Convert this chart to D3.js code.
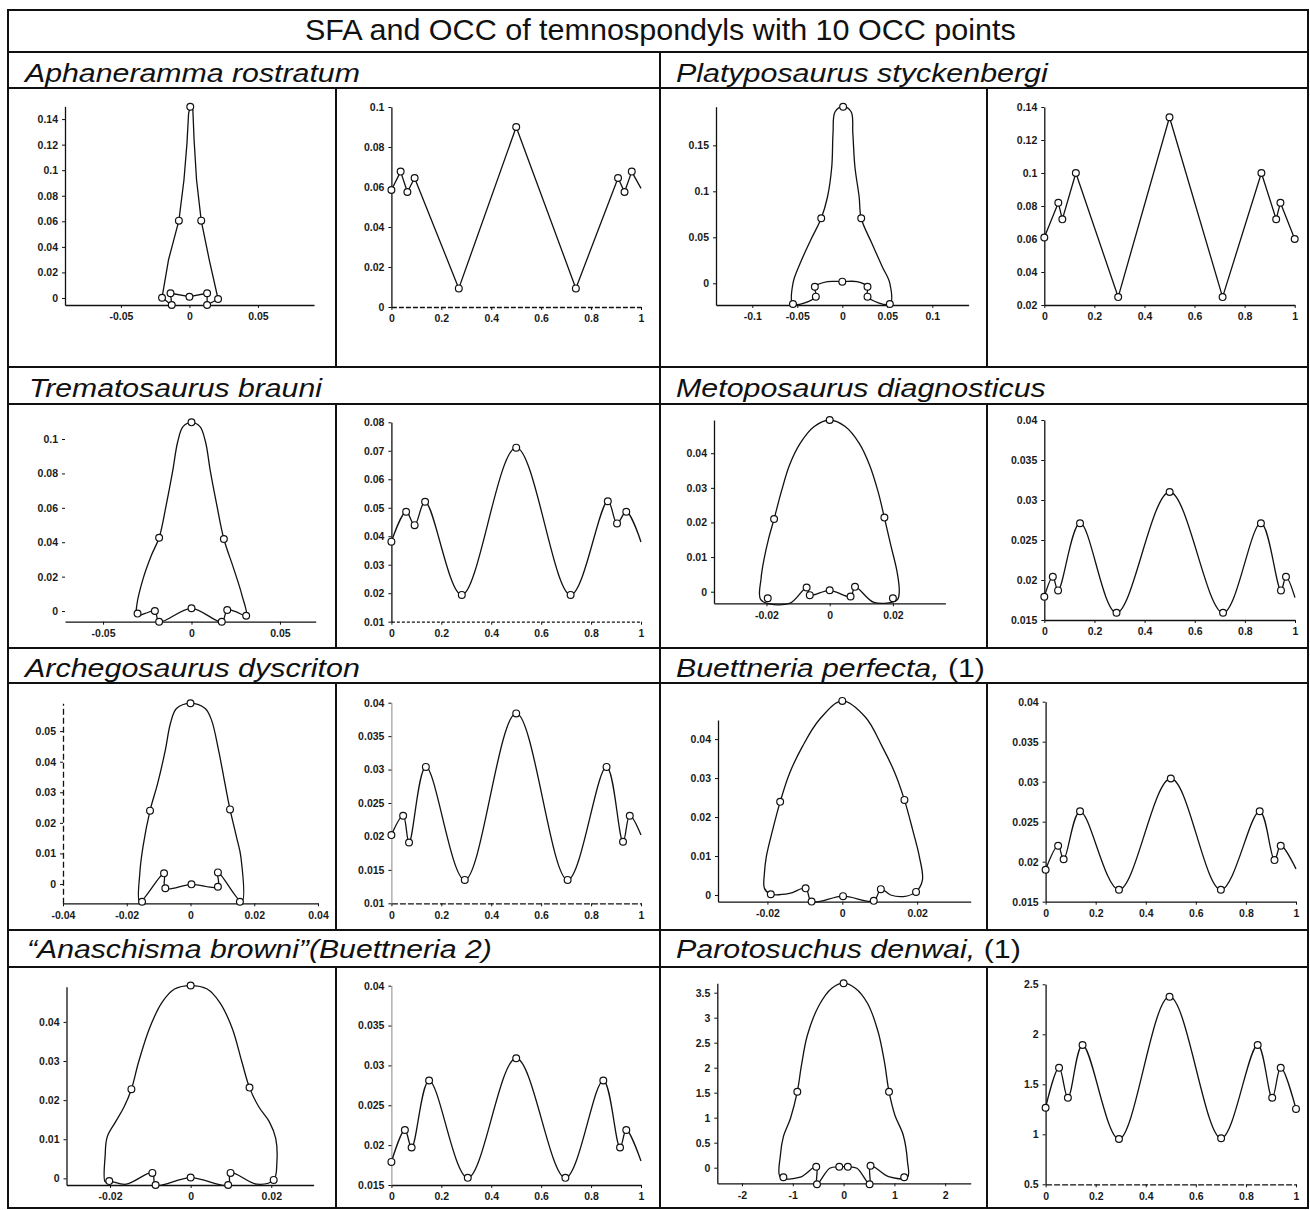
<!DOCTYPE html>
<html>
<head>
<meta charset="utf-8">
<script src="https://cdn.jsdelivr.net/npm/d3@7"></script>
<style>
  body { margin: 0; background: #fff; }
  svg { display: block; }
</style>
</head>
<body>
<svg id="chart" width="1310" height="1210"></svg>
<script>
// ---------------- text ----------------
const chartTitle = "SFA and OCC of temnospondyls with 10 OCC points";
// each header is a list of [text, italic] runs
const aphName  = [["Aphaneramma rostratum", true]];
const platName = [["Platyposaurus styckenbergi", true]];
const tremName = [["Trematosaurus brauni", true]];
const metoName = [["Metoposaurus diagnosticus", true]];
const archName = [["Archegosaurus dyscriton", true]];
const buetName = [["Buettneria perfecta,", true], [" (1)", false]];
const anaName  = [["\u201CAnaschisma browni\u201D(Buettneria 2)", true]];
const paroName = [["Parotosuchus denwai,", true], [" (1)", false]];

// ---------------- SFA outlines (closed) and the 10 OCC points on them ----------------
const aphOutline = [[-0.0200,0.0002],[-0.0153,0.0297],[-0.0077,0.0605],[-0.0040,0.0923],[-0.0018,0.1210],[-0.0006,0.1445],[0.0006,0.1497],[0.0025,0.1471],[0.0034,0.1236],[0.0052,0.0923],[0.0086,0.0605],[0.0145,0.0297],[0.0209,-0.0008],[0.0129,-0.0055],[0.0129,0.0037],[0,0.0010],[-0.0138,0.0037],[-0.0129,-0.0055]];
const aphMarks = [[0.0006,0.1497],[-0.0077,0.0605],[0.0086,0.0605],[-0.0200,0.0002],[-0.0138,0.0037],[-0.0129,-0.0055],[0,0.0010],[0.0129,0.0037],[0.0129,-0.0055],[0.0209,-0.0008]];

const platOutline = [[-0.0548,-0.0225],[-0.0548,0.0],[-0.0468,0.0217],[-0.0351,0.0471],[-0.0234,0.0707],[-0.0164,0.0941],[-0.0117,0.1267],[-0.0103,0.1630],[-0.0080,0.1865],[0.0009,0.1920],[0.0098,0.1865],[0.0117,0.1630],[0.0140,0.1267],[0.0187,0.0941],[0.0210,0.0707],[0.0328,0.0435],[0.0444,0.0181],[0.0528,0.0],[0.0528,-0.0225],[0.0280,-0.0145],[0.0280,-0.0037],[0.0163,0.0018],[0,0.0018],[-0.0164,0.0018],[-0.0305,-0.0037],[-0.0294,-0.0145]];
const platMarks = [[0.0009,0.192],[-0.0234,0.0707],[0.0210,0.0707],[-0.0548,-0.0225],[-0.0305,-0.0037],[-0.0294,-0.0145],[0,0.0018],[0.0280,-0.0037],[0.0280,-0.0145],[0.0528,-0.0225]];

const tremOutline = [[-0.0309,-0.0027],[-0.0309,0.0035],[-0.0273,0.0190],[-0.0226,0.0326],[-0.0183,0.0426],[-0.0143,0.0616],[-0.0107,0.0810],[-0.0078,0.0984],[-0.0048,0.1072],[0,0.1097],[0.0048,0.1072],[0.0079,0.0984],[0.0107,0.0810],[0.0143,0.0616],[0.0183,0.0419],[0.0238,0.0248],[0.0285,0.0093],[0.0309,-0.0027],[0.0250,-0.0004],[0.0202,0.0006],[0.0171,-0.0062],[0,0.0016],[-0.0183,-0.0062],[-0.0207,0.0],[-0.0262,-0.0014]];
const tremMarks = [[0,0.1097],[-0.0183,0.0426],[0.0183,0.0419],[-0.0305,-0.0015],[-0.0207,0.0],[-0.0183,-0.0062],[0,0.0016],[0.0171,-0.0062],[0.0202,0.0006],[0.0309,-0.0027]];

const metoOutline = [[-0.0217,-0.0024],[-0.0217,0.0039],[-0.0207,0.0097],[-0.0193,0.0154],[-0.0176,0.0210],[-0.0153,0.0289],[-0.0127,0.0366],[-0.0093,0.0429],[-0.0049,0.0477],[0,0.0496],[0.0049,0.0477],[0.0093,0.0429],[0.0126,0.0366],[0.0153,0.0289],[0.0173,0.0214],[0.0193,0.0135],[0.0213,0.0058],[0.0220,0.0],[0.0213,-0.0024],[0.0140,-0.0031],[0.0080,0.0014],[0.0066,-0.0014],[0,0.0004],[-0.0063,-0.0010],[-0.0073,0.0012],[-0.0127,-0.0034]];
const metoMarks = [[0,0.0496],[-0.0176,0.0210],[0.0173,0.0214],[-0.0196,-0.0019],[-0.0073,0.0012],[-0.0063,-0.0010],[0,0.0004],[0.0066,-0.0014],[0.0080,0.0014],[0.0200,-0.0019]];

const archOutline = [[-0.0159,-0.0058],[-0.0159,0.0035],[-0.0149,0.0122],[-0.0127,0.0240],[-0.0103,0.0329],[-0.0079,0.0438],[-0.0063,0.0525],[-0.0044,0.0574],[0,0.0591],[0.0046,0.0574],[0.0066,0.0536],[0.0088,0.0438],[0.0106,0.0340],[0.0124,0.0244],[0.0144,0.0155],[0.0158,0.0089],[0.0161,-0.0058],[0.0086,0.0038],[0.0086,-0.0009],[0.0003,-0.0001],[-0.0079,-0.0014],[-0.0083,0.0035]];
const archMarks = [[0,0.0591],[-0.0127,0.0240],[0.0124,0.0244],[-0.0152,-0.0058],[-0.0083,0.0035],[-0.0079,-0.0014],[0.0003,-0.0001],[0.0086,-0.0009],[0.0086,0.0038],[0.0155,-0.0058]];

const buetOutline = [[-0.0208,0.0017],[-0.0208,0.0056],[-0.0203,0.0098],[-0.0186,0.0167],[-0.0166,0.0239],[-0.0141,0.0312],[-0.0107,0.0380],[-0.0062,0.0449],[0,0.0498],[0.0062,0.0456],[0.0107,0.0380],[0.0141,0.0312],[0.0166,0.0244],[0.0188,0.0167],[0.0206,0.0098],[0.0214,0.0038],[0.0197,0.0008],[0.0163,-0.0004],[0.0129,0.0],[0.0103,0.0015],[0.0084,-0.0015],[0.0002,-0.0003],[-0.0082,-0.0017],[-0.0098,0.0017],[-0.0141,0.0004],[-0.0191,0.0002]];
const buetMarks = [[0,0.0498],[-0.0166,0.0239],[0.0166,0.0244],[-0.0191,0.0002],[-0.0098,0.0017],[-0.0082,-0.0017],[0.0002,-0.0003],[0.0084,-0.0015],[0.0103,0.0015],[0.0197,0.0008]];

const anaOutline = [[-0.0212,-0.0009],[-0.0212,0.0060],[-0.0207,0.0106],[-0.0186,0.0145],[-0.0165,0.0183],[-0.0147,0.0228],[-0.0129,0.0298],[-0.0102,0.0384],[-0.0071,0.0450],[-0.0040,0.0484],[0,0.0493],[0.0041,0.0484],[0.0072,0.0450],[0.0103,0.0384],[0.0127,0.0298],[0.0146,0.0232],[0.0169,0.0183],[0.0195,0.0145],[0.0211,0.0102],[0.0214,0.0043],[0.0206,-0.0004],[0.0164,-0.0015],[0.0099,0.0014],[0.0093,-0.0017],[0,0.0002],[-0.0087,-0.0017],[-0.0095,0.0014],[-0.0160,-0.0015],[-0.0202,-0.0007]];
const anaMarks = [[0,0.0493],[-0.0147,0.0228],[0.0146,0.0232],[-0.0202,-0.0007],[-0.0095,0.0014],[-0.0087,-0.0017],[0,0.0002],[0.0093,-0.0017],[0.0099,0.0014],[0.0206,-0.0004]];

const paroOutline = [[-1.244,-0.19],[-1.244,0.25],[-1.185,0.62],[-1.045,0.99],[-0.911,1.52],[-0.829,2.05],[-0.713,2.65],[-0.482,3.25],[-0.232,3.59],[0,3.69],[0.230,3.59],[0.470,3.29],[0.679,2.72],[0.803,2.12],[0.894,1.52],[1.010,1.05],[1.175,0.65],[1.258,0.12],[1.258,-0.19],[0.886,-0.18],[0.530,0.04],[0.512,-0.33],[0.264,-0.01],[0.083,0.02],[-0.085,0.02],[-0.274,-0.01],[-0.524,-0.33],[-0.539,0.02],[-0.854,-0.19]];
const paroMarks = [[0,3.69],[-0.911,1.52],[0.894,1.52],[-1.185,-0.19],[-0.539,0.02],[-0.524,-0.33],[-0.085,0.02],[0.083,0.02],[0.512,-0.33],[0.530,0.04],[1.193,-0.19]];

// ---------------- OCC curves: [position along outline, value] ----------------
const aphOcc  = [[0,0.0585],[0.037,0.0677],[0.064,0.0575],[0.093,0.0645],[0.27,0.0093],[0.5,0.090],[0.739,0.0093],[0.908,0.0645],[0.934,0.0575],[0.963,0.0677],[1.0,0.0593]];
const platOcc = [[0,0.0609],[0.056,0.082],[0.072,0.0719],[0.126,0.100],[0.295,0.0248],[0.5,0.1338],[0.712,0.0248],[0.867,0.100],[0.926,0.072],[0.943,0.082],[1.0,0.060]];
const tremOcc = [[0,0.0381],[0.059,0.0486],[0.093,0.0439],[0.135,0.0521],[0.282,0.0194],[0.5,0.0711],[0.718,0.0194],[0.867,0.0523],[0.904,0.0445],[0.941,0.0486],[1.0,0.038]];
const metoOcc = [[0,0.0179],[0.034,0.0204],[0.055,0.0187],[0.1425,0.0271],[0.288,0.0159],[0.5,0.031],[0.713,0.0159],[0.864,0.0271],[0.944,0.0187],[0.964,0.0204],[1.0,0.0178]];
const archOcc = [[0,0.0202],[0.047,0.0231],[0.0706,0.0191],[0.138,0.0304],[0.294,0.0135],[0.5,0.0384],[0.706,0.0135],[0.862,0.0304],[0.928,0.0192],[0.955,0.0231],[1.0,0.0202]];
const buetOcc = [[0,0.019],[0.05,0.022],[0.072,0.0203],[0.1375,0.0263],[0.293,0.0165],[0.5,0.0304],[0.7,0.0165],[0.855,0.0263],[0.914,0.0202],[0.939,0.022],[1.0,0.0191]];
const anaOcc  = [[0,0.0179],[0.054,0.0219],[0.081,0.0197],[0.151,0.0281],[0.306,0.0159],[0.5,0.0309],[0.697,0.0159],[0.849,0.0281],[0.916,0.0197],[0.941,0.0219],[1.0,0.018]];
const paroOcc = [[0,1.266],[0.0537,1.666],[0.089,1.366],[0.1476,1.893],[0.293,0.953],[0.495,2.376],[0.701,0.96],[0.847,1.893],[0.905,1.366],[0.939,1.666],[1.0,1.254]];

// ---------------- tick values ----------------
const occXTicks = [0, 0.2, 0.4, 0.6, 0.8, 1];
const aphSfaXTicks = [-0.05, 0, 0.05];
const aphSfaYTicks = [0, 0.02, 0.04, 0.06, 0.08, 0.1, 0.12, 0.14];
const aphOccYTicks = [0, 0.02, 0.04, 0.06, 0.08, 0.1];
const platSfaXTicks = [-0.1, -0.05, 0, 0.05, 0.1];
const platSfaYTicks = [0, 0.05, 0.1, 0.15];
const platOccYTicks = [0.02, 0.04, 0.06, 0.08, 0.1, 0.12, 0.14];
const tremSfaXTicks = [-0.05, 0, 0.05];
const tremSfaYTicks = [0, 0.02, 0.04, 0.06, 0.08, 0.1];
const tremOccYTicks = [0.01, 0.02, 0.03, 0.04, 0.05, 0.06, 0.07, 0.08];
const metoSfaXTicks = [-0.02, 0, 0.02];
const metoSfaYTicks = [0, 0.01, 0.02, 0.03, 0.04];
const metoOccYTicks = [0.015, 0.02, 0.025, 0.03, 0.035, 0.04];
const archSfaXTicks = [-0.04, -0.02, 0, 0.02, 0.04];
const archSfaYTicks = [0, 0.01, 0.02, 0.03, 0.04, 0.05];
const archOccYTicks = [0.01, 0.015, 0.02, 0.025, 0.03, 0.035, 0.04];
const buetSfaXTicks = [-0.02, 0, 0.02];
const buetSfaYTicks = [0, 0.01, 0.02, 0.03, 0.04];
const buetOccYTicks = [0.015, 0.02, 0.025, 0.03, 0.035, 0.04];
const anaSfaXTicks = [-0.02, 0, 0.02];
const anaSfaYTicks = [0, 0.01, 0.02, 0.03, 0.04];
const anaOccYTicks = [0.015, 0.02, 0.025, 0.03, 0.035, 0.04];
const paroSfaXTicks = [-2, -1, 0, 1, 2];
const paroSfaYTicks = [0, 0.5, 1, 1.5, 2, 2.5, 3, 3.5];
const paroOccYTicks = [0.5, 1, 1.5, 2, 2.5];

// ---------------- layout ----------------
const ink = "#111";
const frame = { l: 8, r: 1308, t: 10, b: 1208 };
const titleLine = 52, colSplit = 660, subSplit = [336, 987];
const rows = [
  { top: 52,  head: 88,  bottom: 367,  base: 82 },
  { top: 367, head: 404, bottom: 648,  base: 397 },
  { top: 648, head: 683, bottom: 930,  base: 677 },
  { top: 930, head: 967, bottom: 1208, base: 958 }
];

const linearClosed = d3.curveLinearClosed;
const smoothClosed = d3.curveCatmullRomClosed.alpha(0.5);
const smoothOpen = d3.curveCatmullRom.alpha(0.5);

// one entry per species: header, SFA panel, OCC panel
const cells = [
  { name: aphName, hx: 25, hw: 335,
    sfa: { l: 65, r: 314, b: 305, t: 106.3, xd: [-0.0908, 0.0909], yd: [-0.0055, 0.15], xt: aphSfaXTicks, yt: aphSfaYTicks, line: aphOutline, marks: aphMarks, curve: linearClosed },
    occ: { l: 391.4, r: 641, b: 307, t: 107, xd: [0, 1], yd: [0, 0.1], xt: occXTicks, yt: aphOccYTicks, line: aphOcc, endMark: false, curve: d3.curveLinear, dash: "5,2" } },
  { name: platName, hx: 676, hw: 372,
    sfa: { l: 716, r: 968.6, b: 305, t: 106.7, xd: [-0.1403, 0.1403], yd: [-0.0236, 0.192], xt: platSfaXTicks, yt: platSfaYTicks, line: platOutline, marks: platMarks, curve: smoothClosed },
    occ: { l: 1044.3, r: 1294.7, b: 305, t: 107, xd: [0, 1], yd: [0.02, 0.14], xt: occXTicks, yt: platOccYTicks, line: platOcc, endMark: true, curve: d3.curveLinear } },
  { name: tremName, hx: 29, hw: 293,
    sfa: { l: 65, r: 315.7, b: 621.7, t: 422, xd: [-0.0715, 0.0702], yd: [-0.0062, 0.1099], xt: tremSfaXTicks, yt: tremSfaYTicks, line: tremOutline, marks: tremMarks, curve: smoothClosed, noYLine: true },
    occ: { l: 391.4, r: 641, b: 621.7, t: 422.3, xd: [0, 1], yd: [0.01, 0.08], xt: occXTicks, yt: tremOccYTicks, line: tremOcc, endMark: false, curve: smoothOpen, dash: "3,2" } },
  { name: metoName, hx: 676, hw: 370,
    sfa: { l: 714, r: 945.4, b: 603.3, t: 420, xd: [-0.0366, 0.0366], yd: [-0.00335, 0.0496], xt: metoSfaXTicks, yt: metoSfaYTicks, line: metoOutline, marks: metoMarks, curve: smoothClosed },
    occ: { l: 1044.3, r: 1295, b: 620, t: 420, xd: [0, 1], yd: [0.015, 0.04], xt: occXTicks, yt: metoOccYTicks, line: metoOcc, endMark: false, curve: smoothOpen } },
  { name: archName, hx: 25, hw: 335,
    sfa: { l: 63, r: 318, b: 903.3, t: 703.3, xd: [-0.04, 0.04], yd: [-0.0063, 0.0591], xt: archSfaXTicks, yt: archSfaYTicks, line: archOutline, marks: archMarks, curve: smoothClosed, yDash: "6,3" },
    occ: { l: 391.4, r: 641, b: 903.3, t: 702.7, xd: [0, 1], yd: [0.01, 0.04], xt: occXTicks, yt: archOccYTicks, line: archOcc, endMark: false, curve: smoothOpen, dash: "6,2", faintY: true } },
  { name: buetName, hx: 676, hw: 309,
    sfa: { l: 718, r: 970.7, b: 901.7, t: 720, xd: [-0.0332, 0.0343], yd: [-0.00172, 0.0449], xt: buetSfaXTicks, yt: buetSfaYTicks, line: buetOutline, marks: buetMarks, curve: smoothClosed },
    occ: { l: 1045.6, r: 1296, b: 901.7, t: 701.7, xd: [0, 1], yd: [0.015, 0.04], xt: occXTicks, yt: buetOccYTicks, line: buetOcc, endMark: false, curve: smoothOpen } },
  { name: anaName, hx: 27, hw: 465,
    sfa: { l: 66.5, r: 313.6, b: 1185, t: 986.7, xd: [-0.0308, 0.0305], yd: [-0.0017, 0.049], xt: anaSfaXTicks, yt: anaSfaYTicks, line: anaOutline, marks: anaMarks, curve: smoothClosed },
    occ: { l: 391.4, r: 641, b: 1185, t: 985.7, xd: [0, 1], yd: [0.015, 0.04], xt: occXTicks, yt: anaOccYTicks, line: anaOcc, endMark: false, curve: smoothOpen, faintY: true } },
  { name: paroName, hx: 676, hw: 345,
    sfa: { l: 717.3, r: 970.7, b: 1183.3, t: 983.3, xd: [-2.486, 2.502], yd: [-0.312, 3.688], xt: paroSfaXTicks, yt: paroSfaYTicks, line: paroOutline, marks: paroMarks, curve: smoothClosed },
    occ: { l: 1045.6, r: 1296, b: 1184.3, t: 984.3, xd: [0, 1], yd: [0.5, 2.5], xt: occXTicks, yt: paroOccYTicks, line: paroOcc, endMark: true, curve: smoothOpen, dash: "6,2" } }
];

const svg = d3.select("#chart");
svg.append("rect").attr("width", 1310).attr("height", 1210).attr("fill", "#fff");

// ---------------- table grid ----------------
const grid = svg.append("g").attr("stroke", ink).attr("stroke-width", 2).attr("fill", "none");
grid.append("rect").attr("x", frame.l).attr("y", frame.t)
  .attr("width", frame.r - frame.l).attr("height", frame.b - frame.t);
grid.append("line").attr("x1", frame.l).attr("x2", frame.r).attr("y1", titleLine).attr("y2", titleLine);
grid.append("line").attr("x1", colSplit).attr("x2", colSplit).attr("y1", titleLine).attr("y2", frame.b);
rows.forEach((rw, i) => {
  grid.append("line").attr("x1", frame.l).attr("x2", frame.r).attr("y1", rw.head).attr("y2", rw.head);
  if (i < rows.length - 1)
    grid.append("line").attr("x1", frame.l).attr("x2", frame.r).attr("y1", rw.bottom).attr("y2", rw.bottom);
  subSplit.forEach(sx => grid.append("line").attr("x1", sx).attr("x2", sx).attr("y1", rw.head).attr("y2", rw.bottom));
});

// stretch a text element horizontally so it spans the given width
function fitWidth(sel, x0, width) {
  const w = sel.node().getComputedTextLength();
  const k = width / w;
  sel.attr("transform", `translate(${x0},0) scale(${k},1) translate(${-x0},0)`);
}

const title = svg.append("text")
  .attr("x", 305).attr("y", 40)
  .attr("font-family", "'Liberation Sans', Arial, Helvetica, sans-serif")
  .attr("font-size", 29).attr("fill", ink)
  .text(chartTitle);
fitWidth(title, 305, 711);

// ---------------- panels ----------------
const tickFont = "'Liberation Sans', Arial, Helvetica, sans-serif";

function drawPanel(p, closed) {
  const x = d3.scaleLinear().domain(p.xd).range([p.l, p.r]);
  const y = d3.scaleLinear().domain(p.yd).range([p.b, p.t]);
  const g = svg.append("g");

  const xAxis = g.append("g").attr("transform", `translate(0,${p.b})`)
    .call(d3.axisBottom(x).tickValues(p.xt).tickFormat(d => String(d))
      .tickSize(3).tickSizeOuter(0).tickPadding(5));
  const yAxis = g.append("g").attr("transform", `translate(${p.l},0)`)
    .call(d3.axisLeft(y).tickValues(p.yt).tickFormat(d => String(d))
      .tickSize(3).tickSizeOuter(0).tickPadding(4));

  [xAxis, yAxis].forEach(a => {
    a.attr("font-family", tickFont).attr("font-size", 10.5).attr("font-weight", "bold");
    a.selectAll("text").attr("fill", "#1a1a1a");
    a.selectAll(".tick line").attr("stroke", ink).attr("stroke-width", 1);
    a.select(".domain").attr("stroke", ink).attr("stroke-width", 1.3);
  });
  if (p.dash) xAxis.select(".domain").attr("stroke-dasharray", p.dash);
  if (p.yDash) yAxis.select(".domain").attr("stroke-dasharray", p.yDash);
  if (p.noYLine) yAxis.select(".domain").attr("stroke", "none");
  if (p.faintY) yAxis.select(".domain").attr("stroke", "#888").attr("stroke-width", 1);

  const path = d3.line().x(d => x(d[0])).y(d => y(d[1])).curve(p.curve);
  g.append("path").datum(p.line)
    .attr("d", path).attr("fill", "none")
    .attr("stroke", ink).attr("stroke-width", 1.3).attr("stroke-linejoin", "round");

  const pts = closed ? p.marks : (p.endMark ? p.line : p.line.slice(0, -1));
  g.selectAll("circle").data(pts).join("circle")
    .attr("cx", d => x(d[0])).attr("cy", d => y(d[1])).attr("r", 3.4)
    .attr("fill", "#fff").attr("stroke", ink).attr("stroke-width", 1.2);
}

cells.forEach((c, i) => {
  const rw = rows[Math.floor(i / 2)];
  const head = svg.append("text")
    .attr("x", c.hx).attr("y", rw.base)
    .attr("font-family", "'Liberation Sans', Arial, Helvetica, sans-serif")
    .attr("font-size", 26).attr("fill", ink);
  c.name.forEach(([txt, it]) => {
    head.append("tspan").attr("font-style", it ? "italic" : "normal").text(txt);
  });
  fitWidth(head, c.hx, c.hw);

  drawPanel(c.sfa, true);
  drawPanel(c.occ, false);
});
</script>
</body>
</html>
